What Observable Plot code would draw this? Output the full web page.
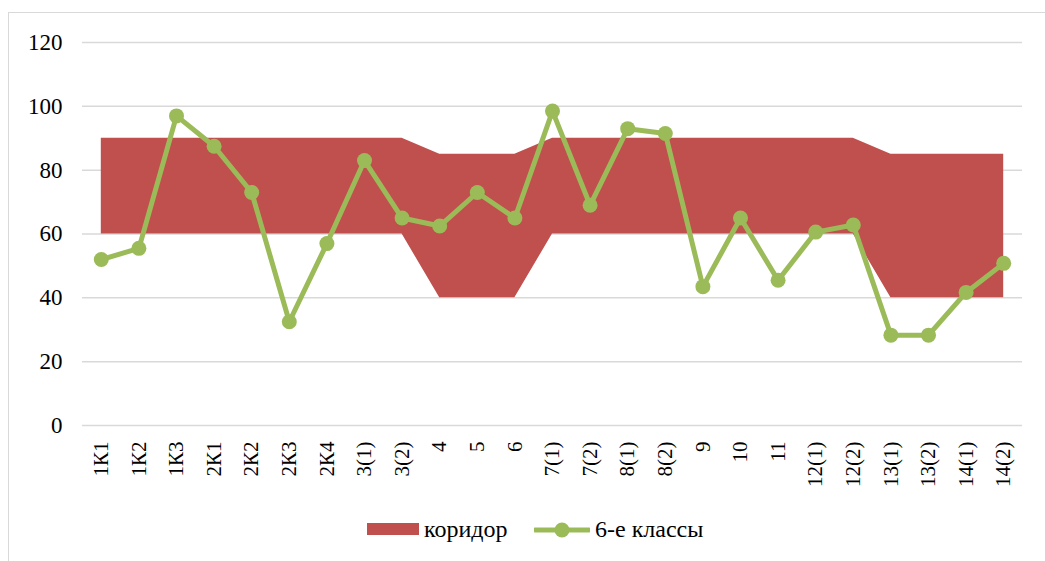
<!DOCTYPE html>
<html>
<head>
<meta charset="utf-8">
<script src="https://cdn.jsdelivr.net/npm/d3@7"></script>
<script src="https://cdn.jsdelivr.net/npm/@observablehq/plot@0.6"></script>
<style>
  html, body { margin: 0; padding: 0; background: #fff; }
  #wrap { position: relative; width: 1045px; height: 561px; overflow: hidden; font-family: 'Liberation Serif', 'Times New Roman', serif; }
  #frame { position: absolute; left: 8px; top: 12px; width: 1060px; height: 600px; border: 1px solid #d9d9d9; box-sizing: border-box; }
  #chart { position: absolute; left: 0; top: 0; }
  #chart svg, #chart svg text { font-family: 'Liberation Serif', 'Times New Roman', serif !important; fill: #000; }
  #chart svg g[aria-label="y-axis tick label"] text { font-size: 23px !important; }
  #chart svg g[aria-label="x-axis tick label"] text { font-size: 21px !important; }
  #legend { position: absolute; left: 0; top: 514px; width: 1045px; height: 30px; }
  .lg { position: absolute; font-family: 'Liberation Serif', 'Times New Roman', serif; font-size: 24px; color: #000; line-height: 30px; top: 0; }
</style>
</head>
<body>
<div id="wrap">
  <div id="frame"></div>
  <div id="chart"></div>
  <div id="legend">
    <svg style="position:absolute;left:367px;top:9px" width="52" height="12"><rect width="52" height="12" fill="#c0504d"></rect></svg>
    <span class="lg" style="left:424px">коридор</span>
    <svg style="position:absolute;left:534px;top:7px" width="56" height="18"><line x1="1" y1="9" x2="55" y2="9" stroke="#9bbb59" stroke-width="5" stroke-linecap="round"></line><circle cx="28" cy="9" r="7.5" fill="#9bbb59"></circle></svg>
    <span class="lg" style="left:595px">6-е классы</span>
  </div>
</div>
<script>
const categories = ["1К1","1К2","1К3","2К1","2К2","2К3","2К4","3(1)","3(2)","4","5","6","7(1)","7(2)","8(1)","8(2)","9","10","11","12(1)","12(2)","13(1)","13(2)","14(1)","14(2)"];
const corridorLow  = [60,60,60,60,60,60,60,60,60,40,40,40,60,60,60,60,60,60,60,60,60,40,40,40,40];
const corridorHigh = [90,90,90,90,90,90,90,90,90,85,85,85,90,90,90,90,90,90,90,90,90,85,85,85,85];
const grade6 = [52,55.5,97,87.5,73,32.5,57,83,65,62.5,73,65,98.5,69,93,91.5,43.5,65,45.5,60.6,62.8,28.3,28.3,41.7,50.8];
const yTicks = [0,20,40,60,80,100,120];

const data = categories.map((c, i) => ({cat: c, lo: corridorLow[i], hi: corridorHigh[i], v: grade6[i]}));

const chart = Plot.plot({
  width: 1045,
  height: 510,
  marginLeft: 82,
  marginRight: 23,
  marginTop: 42,
  marginBottom: 85,
  style: {fontFamily: "'Liberation Serif', 'Times New Roman', serif", fontSize: "21px", color: "#000", background: "transparent"},
  x: {type: "point", domain: categories, padding: 0.5, round: false, label: null},
  y: {domain: [0, 120], label: null},
  marks: [
    Plot.ruleY(yTicks, {stroke: "#d9d9d9", strokeWidth: 1.5}),
    Plot.areaY(data, {x: "cat", y1: "lo", y2: "hi", fill: "#c0504d", curve: "linear"}),
    Plot.line(data, {x: "cat", y: "v", stroke: "#9bbb59", strokeWidth: 5, strokeLinejoin: "round"}),
    Plot.dot(data, {x: "cat", y: "v", r: 7.5, fill: "#9bbb59", stroke: "none"}),
    Plot.axisY({ticks: yTicks, tickSize: 0, tickPadding: 20, label: null, fontSize: 23}),
    Plot.axisX({tickSize: 0, tickPadding: 16, tickRotate: -90, label: null, fontSize: 21})
  ]
});
document.getElementById("chart").appendChild(chart);
</script>
</body>
</html>
